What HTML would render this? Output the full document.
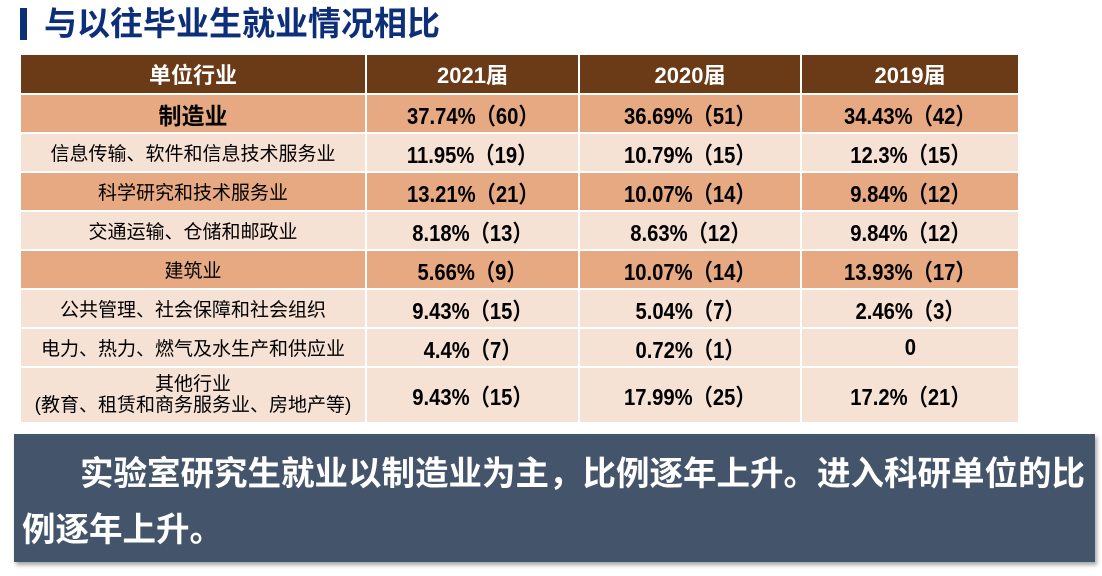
<!DOCTYPE html>
<html><head><meta charset="utf-8"><style>
body{margin:0;width:1102px;height:576px;background:#fff;position:relative;overflow:hidden;font-family:"Liberation Sans","Noto Sans CJK SC",sans-serif}
.bar{position:absolute;left:20px;top:8px;width:7px;height:32px;background:#0D2F7A}
.title{position:absolute;left:44px;top:2px;font-size:33px;font-weight:bold;color:#0D2F7A;line-height:44px}
table{position:absolute;left:19px;top:53px;border-collapse:collapse;width:999px;table-layout:fixed}
td{border:2px solid #fff;text-align:center;padding:0;color:#000}
.h td{background:#6B3A17;color:#fff;font-weight:bold;font-size:22px;height:38px}
.d td{background:#E6A982}
.l td{background:#F6E1D5}
td.n span{display:inline-block;font-weight:bold;font-size:23px;transform:scaleX(0.88)}
td.c{font-size:19px}
.box{position:absolute;left:14px;top:434px;width:1081px;height:128px;background:#44546A;box-shadow:2px 3px 4px rgba(0,0,0,.35);color:#fff;font-weight:bold;font-size:33.5px;line-height:56px;padding:13px 8px 0 8px;box-sizing:border-box;white-space:nowrap}
</style></head><body>
<div class="bar"></div>
<div class="title">与以往毕业生就业情况相比</div>
<table>
<colgroup><col style="width:346px"><col style="width:213px"><col style="width:222px"><col style="width:218px"></colgroup>
<tr class="h"><td>单位行业</td><td>2021届</td><td>2020届</td><td>2019届</td></tr>
<tr class="d" style="height:39px"><td style="font-weight:bold;font-size:23px">制造业</td><td class="n"><span>37.74%（60）</span></td><td class="n"><span>36.69%（51）</span></td><td class="n"><span>34.43%（42）</span></td></tr>
<tr class="l" style="height:39px"><td class="c">信息传输、软件和信息技术服务业</td><td class="n"><span>11.95%（19）</span></td><td class="n"><span>10.79%（15）</span></td><td class="n"><span>12.3%（15）</span></td></tr>
<tr class="d" style="height:39px"><td class="c">科学研究和技术服务业</td><td class="n"><span>13.21%（21）</span></td><td class="n"><span>10.07%（14）</span></td><td class="n"><span>9.84%（12）</span></td></tr>
<tr class="l" style="height:39px"><td class="c">交通运输、仓储和邮政业</td><td class="n"><span>8.18%（13）</span></td><td class="n"><span>8.63%（12）</span></td><td class="n"><span>9.84%（12）</span></td></tr>
<tr class="d" style="height:39px"><td class="c">建筑业</td><td class="n"><span>5.66%（9）</span></td><td class="n"><span>10.07%（14）</span></td><td class="n"><span>13.93%（17）</span></td></tr>
<tr class="l" style="height:39px"><td class="c">公共管理、社会保障和社会组织</td><td class="n"><span>9.43%（15）</span></td><td class="n"><span>5.04%（7）</span></td><td class="n"><span>2.46%（3）</span></td></tr>
<tr class="l" style="height:39px"><td class="c">电力、热力、燃气及水生产和供应业</td><td class="n"><span>4.4%（7）</span></td><td class="n"><span>0.72%（1）</span></td><td class="n"><span>0</span></td></tr>
<tr class="l" style="height:56px"><td class="c" style="line-height:21px">其他行业<br>(教育、租赁和商务服务业、房地产等)</td><td class="n"><span>9.43%（15）</span></td><td class="n"><span>17.99%（25）</span></td><td class="n"><span>17.2%（21）</span></td></tr>
</table>
<div class="box"><span style="padding-left:58px">实验室研究生就业以制造业为主，比例逐年上升。进入科研单位的比</span><br>例逐年上升。</div>
</body></html>
